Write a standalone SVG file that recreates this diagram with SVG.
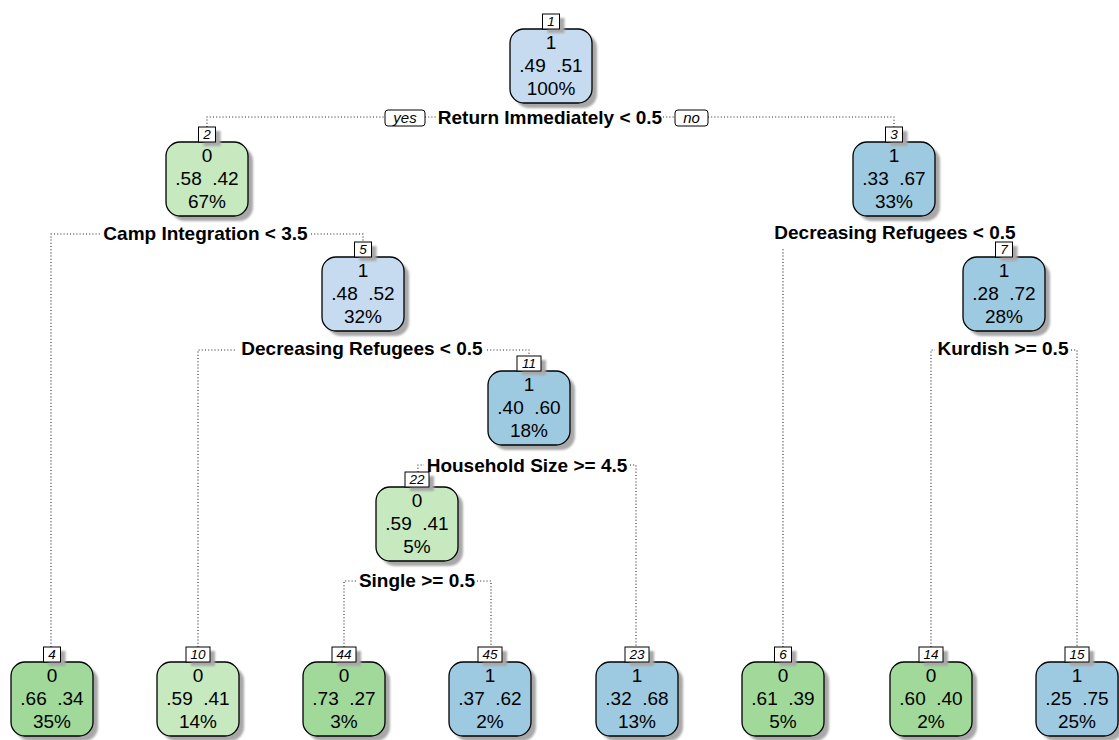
<svg xmlns="http://www.w3.org/2000/svg" width="1119" height="740" viewBox="0 0 1119 740">
<defs>
<filter id="blur" x="-10%" y="-10%" width="130%" height="130%"><feGaussianBlur stdDeviation="1"/></filter>
<style>
.box{stroke:#000;stroke-width:1.3}
.lb{fill:#C6DBEF}.db{fill:#9ECAE1}.lg{fill:#C7E9C0}.dg{fill:#A1D99B}
.sh{fill:#a8a8a8;filter:url(#blur)}
.num{fill:#fff;stroke:#000;stroke-width:1}
.nt{font-family:"Liberation Sans",Arial,sans-serif;font-style:italic;font-size:13.5px;text-anchor:middle;fill:#000}
.t{font-family:"Liberation Sans",Arial,sans-serif;font-size:19px;text-anchor:middle;fill:#000;white-space:pre}
.sp{font-family:"Liberation Sans",Arial,sans-serif;font-size:19px;font-weight:bold;text-anchor:middle;fill:#000}
.yn{font-family:"Liberation Sans",Arial,sans-serif;font-style:italic;font-size:15px;text-anchor:middle;fill:#000}
.ed{fill:none;stroke:#222;stroke-width:1.1;stroke-dasharray:1 2.2}
</style>
</defs>
<rect width="1119" height="740" fill="#fff"/>

<g id="connectors">
<path class="ed" d="M207,127 V117 H385 M425,117 H436 M663,117 H675 M708,117 H894 V127"/>
<path class="ed" d="M51,647 V234 H100 M311,234 H363 V242"/>
<path class="ed" d="M783,647 V248"/>
<path class="ed" d="M198,647 V350 H237 M487,350 H529 V356"/>
<path class="ed" d="M931,647 V350 H935 M1071,350 H1077 V647"/>
<path class="ed" d="M418,472 V465 H424 M630,465 H636 V647"/>
<path class="ed" d="M344,647 V581 H356 M477,581 H491 V647"/>
</g>

<g id="split-labels">
<rect x="385" y="110" width="40" height="16" rx="3" class="num"/>
<text class="yn" x="405" y="123">yes</text>
<rect x="675" y="110" width="33" height="16" rx="3" class="num"/>
<text class="yn" x="691.5" y="123">no</text>
<text class="sp" x="550" y="124">Return Immediately &lt; 0.5</text>
<text class="sp" x="205.5" y="240">Camp Integration &lt; 3.5</text>
<text class="sp" x="895" y="239">Decreasing Refugees &lt; 0.5</text>
<text class="sp" x="362" y="355">Decreasing Refugees &lt; 0.5</text>
<text class="sp" x="1003" y="355">Kurdish &gt;= 0.5</text>
<text class="sp" x="527" y="472">Household Size &gt;= 4.5</text>
<text class="sp" x="417" y="587">Single &gt;= 0.5</text>
</g>

<g id="node1">
<rect class="sh" x="515" y="34" width="82" height="74" rx="14"/>
<rect class="box lb" x="510" y="29" width="82" height="74" rx="14"/>
<rect class="sh" x="547.5" y="18" width="17" height="15"/>
<rect class="num" x="542.5" y="14" width="17" height="15"/>
<text class="nt" x="551" y="26">1</text>
<text class="t" x="551" y="49">1</text>
<text class="t" x="551" y="72">.49  .51</text>
<text class="t" x="551" y="95">100%</text>
</g>

<g id="node2">
<rect class="sh" x="171" y="147" width="82" height="74" rx="14"/>
<rect class="box lg" x="166" y="142" width="82" height="74" rx="14"/>
<rect class="sh" x="203.5" y="131" width="17" height="15"/>
<rect class="num" x="198.5" y="127" width="17" height="15"/>
<text class="nt" x="207" y="139">2</text>
<text class="t" x="207" y="162">0</text>
<text class="t" x="207" y="185">.58  .42</text>
<text class="t" x="207" y="208">67%</text>
</g>

<g id="node3">
<rect class="sh" x="858" y="147" width="82" height="74" rx="14"/>
<rect class="box db" x="853" y="142" width="82" height="74" rx="14"/>
<rect class="sh" x="890.5" y="131" width="17" height="15"/>
<rect class="num" x="885.5" y="127" width="17" height="15"/>
<text class="nt" x="894" y="139">3</text>
<text class="t" x="894" y="162">1</text>
<text class="t" x="894" y="185">.33  .67</text>
<text class="t" x="894" y="208">33%</text>
</g>

<g id="node5">
<rect class="sh" x="327" y="262" width="82" height="74" rx="14"/>
<rect class="box lb" x="322" y="257" width="82" height="74" rx="14"/>
<rect class="sh" x="359.5" y="246" width="17" height="15"/>
<rect class="num" x="354.5" y="242" width="17" height="15"/>
<text class="nt" x="363" y="254">5</text>
<text class="t" x="363" y="277">1</text>
<text class="t" x="363" y="300">.48  .52</text>
<text class="t" x="363" y="323">32%</text>
</g>

<g id="node7">
<rect class="sh" x="968" y="262" width="82" height="74" rx="14"/>
<rect class="box db" x="963" y="257" width="82" height="74" rx="14"/>
<rect class="sh" x="1000.5" y="246" width="17" height="15"/>
<rect class="num" x="995.5" y="242" width="17" height="15"/>
<text class="nt" x="1004" y="254">7</text>
<text class="t" x="1004" y="277">1</text>
<text class="t" x="1004" y="300">.28  .72</text>
<text class="t" x="1004" y="323">28%</text>
</g>

<g id="node11">
<rect class="sh" x="493" y="376" width="82" height="74" rx="14"/>
<rect class="box db" x="488" y="371" width="82" height="74" rx="14"/>
<rect class="sh" x="522" y="360" width="24" height="15"/>
<rect class="num" x="517" y="356" width="24" height="15"/>
<text class="nt" x="529" y="368">11</text>
<text class="t" x="529" y="391">1</text>
<text class="t" x="529" y="414">.40  .60</text>
<text class="t" x="529" y="437">18%</text>
</g>

<g id="node22">
<rect class="sh" x="381" y="492" width="82" height="74" rx="14"/>
<rect class="box lg" x="376" y="487" width="82" height="74" rx="14"/>
<rect class="sh" x="410" y="476" width="24" height="15"/>
<rect class="num" x="405" y="472" width="24" height="15"/>
<text class="nt" x="417" y="484">22</text>
<text class="t" x="417" y="507">0</text>
<text class="t" x="417" y="530">.59  .41</text>
<text class="t" x="417" y="553">5%</text>
</g>

<g id="leaf4">
<rect class="sh" x="16" y="667" width="82" height="74" rx="14"/>
<rect class="box dg" x="11" y="662" width="82" height="74" rx="14"/>
<rect class="sh" x="48.5" y="651" width="17" height="15"/>
<rect class="num" x="43.5" y="647" width="17" height="15"/>
<text class="nt" x="52" y="659">4</text>
<text class="t" x="52" y="682">0</text>
<text class="t" x="52" y="705">.66  .34</text>
<text class="t" x="52" y="728">35%</text>
</g>

<g id="leaf10">
<rect class="sh" x="162" y="667" width="82" height="74" rx="14"/>
<rect class="box lg" x="157" y="662" width="82" height="74" rx="14"/>
<rect class="sh" x="191" y="651" width="24" height="15"/>
<rect class="num" x="186" y="647" width="24" height="15"/>
<text class="nt" x="198" y="659">10</text>
<text class="t" x="198" y="682">0</text>
<text class="t" x="198" y="705">.59  .41</text>
<text class="t" x="198" y="728">14%</text>
</g>

<g id="leaf44">
<rect class="sh" x="308" y="667" width="82" height="74" rx="14"/>
<rect class="box dg" x="303" y="662" width="82" height="74" rx="14"/>
<rect class="sh" x="337" y="651" width="24" height="15"/>
<rect class="num" x="332" y="647" width="24" height="15"/>
<text class="nt" x="344" y="659">44</text>
<text class="t" x="344" y="682">0</text>
<text class="t" x="344" y="705">.73  .27</text>
<text class="t" x="344" y="728">3%</text>
</g>

<g id="leaf45">
<rect class="sh" x="454" y="667" width="82" height="74" rx="14"/>
<rect class="box db" x="449" y="662" width="82" height="74" rx="14"/>
<rect class="sh" x="483" y="651" width="24" height="15"/>
<rect class="num" x="478" y="647" width="24" height="15"/>
<text class="nt" x="490" y="659">45</text>
<text class="t" x="490" y="682">1</text>
<text class="t" x="490" y="705">.37  .62</text>
<text class="t" x="490" y="728">2%</text>
</g>

<g id="leaf23">
<rect class="sh" x="601" y="667" width="82" height="74" rx="14"/>
<rect class="box db" x="596" y="662" width="82" height="74" rx="14"/>
<rect class="sh" x="630" y="651" width="24" height="15"/>
<rect class="num" x="625" y="647" width="24" height="15"/>
<text class="nt" x="637" y="659">23</text>
<text class="t" x="637" y="682">1</text>
<text class="t" x="637" y="705">.32  .68</text>
<text class="t" x="637" y="728">13%</text>
</g>

<g id="leaf6">
<rect class="sh" x="747" y="667" width="82" height="74" rx="14"/>
<rect class="box dg" x="742" y="662" width="82" height="74" rx="14"/>
<rect class="sh" x="779.5" y="651" width="17" height="15"/>
<rect class="num" x="774.5" y="647" width="17" height="15"/>
<text class="nt" x="783" y="659">6</text>
<text class="t" x="783" y="682">0</text>
<text class="t" x="783" y="705">.61  .39</text>
<text class="t" x="783" y="728">5%</text>
</g>

<g id="leaf14">
<rect class="sh" x="895" y="667" width="82" height="74" rx="14"/>
<rect class="box dg" x="890" y="662" width="82" height="74" rx="14"/>
<rect class="sh" x="924" y="651" width="24" height="15"/>
<rect class="num" x="919" y="647" width="24" height="15"/>
<text class="nt" x="931" y="659">14</text>
<text class="t" x="931" y="682">0</text>
<text class="t" x="931" y="705">.60  .40</text>
<text class="t" x="931" y="728">2%</text>
</g>

<g id="leaf15">
<rect class="sh" x="1041" y="667" width="82" height="74" rx="14"/>
<rect class="box db" x="1036" y="662" width="82" height="74" rx="14"/>
<rect class="sh" x="1070" y="651" width="24" height="15"/>
<rect class="num" x="1065" y="647" width="24" height="15"/>
<text class="nt" x="1077" y="659">15</text>
<text class="t" x="1077" y="682">1</text>
<text class="t" x="1077" y="705">.25  .75</text>
<text class="t" x="1077" y="728">25%</text>
</g>
</svg>
